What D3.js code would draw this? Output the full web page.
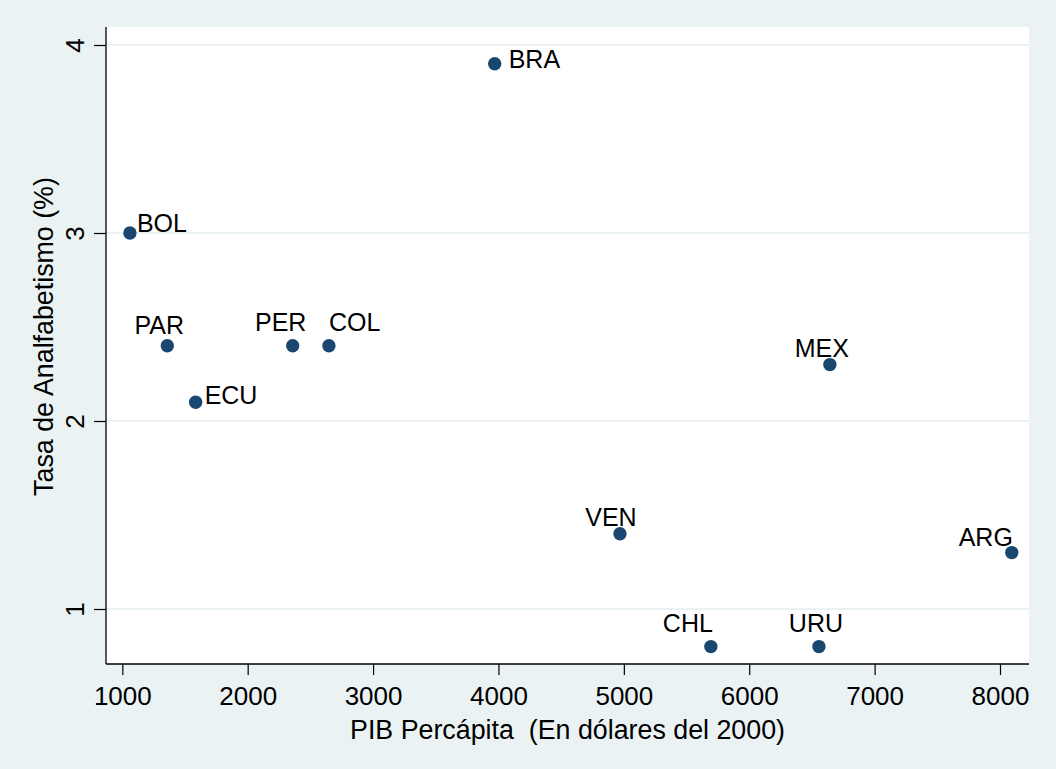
<!DOCTYPE html>
<html>
<head>
<meta charset="utf-8">
<script src="https://cdn.jsdelivr.net/npm/d3@7/dist/d3.min.js"></script>
<style>
  body { margin: 0; background: #EAF2F3; }
  svg text { font-family: "Liberation Sans", Arial, Helvetica, sans-serif; fill: #000; }
</style>
</head>
<body>
<div id="vis"></div>
<script>
// data
var countries = ['BRA', 'BOL', 'PAR', 'PER', 'COL', 'ECU', 'MEX', 'VEN', 'ARG', 'CHL', 'URU'];
var gdpPerCapita = [3970, 1061, 1359, 2359, 2648, 1585, 6643, 4969, 8094, 5694, 6556];
var illiteracy = [3.9, 3.0, 2.4, 2.4, 2.4, 2.1, 2.3, 1.4, 1.3, 0.8, 0.8];
var xTicks = [1000, 2000, 3000, 4000, 5000, 6000, 7000, 8000];
var yTicks = [1, 2, 3, 4];

// where each marker label sits relative to its dot
var labelPlace = {
    BRA: ['start', 14, 4],
    BOL: ['start', 7, -1],
    ECU: ['start', 9, 2],
    PAR: ['middle', -8, -12],
    PER: ['middle', -12, -15],
    COL: ['start', 0, -15],
    MEX: ['middle', -8, -8],
    VEN: ['middle', -9, -8],
    ARG: ['middle', -26, -7],
    CHL: ['end', 2, -15],
    URU: ['middle', -3, -15]
};

var width = 1056;
var height = 769;

var plot = { left: 106, right: 1029, top: 27, bottom: 664 };

var svg = d3.select('#vis')
            .append('svg')
            .attr('width', width)
            .attr('height', height);

svg.append('rect')
    .attr('width', width)
    .attr('height', height)
    .attr('fill', '#EAF2F3');

svg.append('rect')
    .attr('x', plot.left)
    .attr('y', plot.top)
    .attr('width', plot.right - plot.left)
    .attr('height', plot.bottom - plot.top)
    .attr('fill', '#fff');

var xScale = d3.scaleLinear()
                .domain([1000, 8000])
                .range([122.3, 1000]);

var yScale = d3.scaleLinear()
                .domain([1, 4])
                .range([609, 45]);

// grid lines
svg.append('g')
    .selectAll('line')
    .data(yTicks)
    .enter()
    .append('line')
    .attr('x1', plot.left)
    .attr('x2', plot.right)
    .attr('y1', function(d) { return yScale(d); })
    .attr('y2', function(d) { return yScale(d); })
    .attr('stroke', '#EAF2F3')
    .attr('stroke-width', 2);

// y axis
var yAxis = d3.axisLeft(yScale)
                .tickValues(yTicks)
                .tickFormat(d3.format('d'))
                .tickSize(12);

var yAxisG = svg.append('g')
                .attr('transform', 'translate(' + plot.left + ', 0)')
                .call(yAxis);
yAxisG.select('.domain').remove();
yAxisG.selectAll('.tick line').attr('stroke', '#000').attr('stroke-width', 1.2);
yAxisG.selectAll('.tick text')
    .attr('x', 0)
    .attr('dy', 0)
    .attr('text-anchor', 'middle')
    .attr('transform', 'translate(-22, 0) rotate(-90)')
    .style('font-size', '26px');
yAxisG.append('line')
    .attr('x1', 0).attr('x2', 0)
    .attr('y1', plot.top).attr('y2', plot.bottom)
    .attr('stroke', '#000')
    .attr('stroke-width', 1.3);

// x axis
var xAxis = d3.axisBottom(xScale)
                .tickValues(xTicks)
                .tickFormat(d3.format('d'))
                .tickSize(11);

var xAxisG = svg.append('g')
                .attr('transform', 'translate(0, ' + plot.bottom + ')')
                .call(xAxis);
xAxisG.select('.domain').remove();
xAxisG.selectAll('.tick line').attr('stroke', '#000').attr('stroke-width', 1.2);
xAxisG.selectAll('.tick text')
    .attr('y', 41)
    .attr('dy', 0)
    .style('font-size', '26px');
xAxisG.append('line')
    .attr('x1', plot.left).attr('x2', plot.right)
    .attr('y1', 0).attr('y2', 0)
    .attr('stroke', '#000')
    .attr('stroke-width', 1.3);

// axis titles
svg.append('text')
    .attr('x', (plot.left + plot.right) / 2)
    .attr('y', 738.5)
    .attr('text-anchor', 'middle')
    .style('font-size', '26.8px')
    .style('white-space', 'pre')
    .text('PIB Percápita  (En dólares del 2000)');

svg.append('text')
    .attr('transform', 'translate(53, 336.5) rotate(-90)')
    .attr('text-anchor', 'middle')
    .style('font-size', '26.8px')
    .text('Tasa de Analfabetismo (%)');

// points
var data = countries.map(function(c, i) {
    return { name: c, x: gdpPerCapita[i], y: illiteracy[i] };
});

svg.append('g')
    .selectAll('circle')
    .data(data)
    .enter()
    .append('circle')
    .attr('cx', function(d) { return xScale(d.x); })
    .attr('cy', function(d) { return yScale(d.y); })
    .attr('r', 6.7)
    .attr('fill', '#1A476F');

svg.append('g')
    .selectAll('text')
    .data(data)
    .enter()
    .append('text')
    .attr('x', function(d) { return xScale(d.x) + labelPlace[d.name][1]; })
    .attr('y', function(d) { return yScale(d.y) + labelPlace[d.name][2]; })
    .attr('text-anchor', function(d) { return labelPlace[d.name][0]; })
    .style('font-size', '25px')
    .text(function(d) { return d.name; });
</script>
</body>
</html>
